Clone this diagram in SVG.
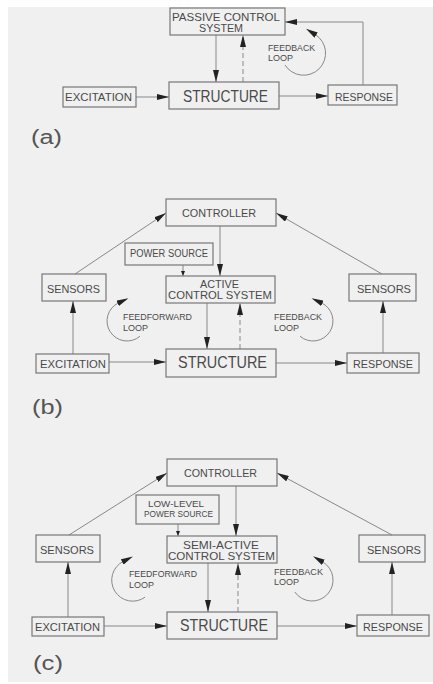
<svg xmlns="http://www.w3.org/2000/svg" width="433" height="684" viewBox="0 0 433 684">
<style>
.bx{fill:none;stroke:#777;stroke-width:1.2}
.ln{fill:none;stroke:#888;stroke-width:1}
.ds{stroke-dasharray:5 3}
.t{font-family:"Liberation Sans",Arial,sans-serif;fill:#4a4a4a;lengthAdjust:spacingAndGlyphs}
.big{font-size:17px}
.md{font-size:11.5px}
.sm{font-size:9px}
.lb{font-size:20px;fill:#555}
</style>
<defs>
<marker id="ah" viewBox="0 0 12 6" refX="12" refY="3" markerWidth="12" markerHeight="6" orient="auto" markerUnits="userSpaceOnUse"><path d="M0,0 L12,3 L0,6 z" fill="#222"/></marker>
<marker id="ahl" viewBox="0 0 12 6" refX="1" refY="3" markerWidth="12" markerHeight="6" orient="auto" markerUnits="userSpaceOnUse"><path d="M0,0 L12,3 L0,6 z" fill="#222"/></marker>
<marker id="ahs" viewBox="0 0 5 4" refX="5" refY="2" markerWidth="5" markerHeight="4" orient="auto" markerUnits="userSpaceOnUse"><path d="M0,0 L5,2 L0,4 z" fill="#222"/></marker>
</defs>
<rect x="0" y="0" width="433" height="684" fill="#fff"/>
<rect x="8" y="7" width="425" height="675" fill="#f0f0f0"/>

<g id="connectors">
<!-- panel a -->
<path class="ln" d="M136,97 H169" marker-end="url(#ah)"/>
<path class="ln" d="M279,96 H328" marker-end="url(#ah)"/>
<path class="ln" d="M216,35 V82" marker-end="url(#ah)"/>
<path class="ln ds" d="M243,82 V35" marker-end="url(#ah)"/>
<path class="ln" d="M363,85 V22 H285" marker-end="url(#ah)"/>
<path class="ln" d="M285,65 A22,22 0 1 0 315.3,34.6" marker-end="url(#ahl)"/>
<!-- panel b -->
<path class="ln" d="M109,362 H166" marker-end="url(#ah)"/>
<path class="ln" d="M276,363 H347" marker-end="url(#ah)"/>
<path class="ln" d="M220,226 V276" marker-end="url(#ah)"/>
<path class="ln" d="M183,265 V276" marker-end="url(#ahs)"/>
<path class="ln" d="M207,303 V349" marker-end="url(#ah)"/>
<path class="ln ds" d="M240,349 V303" marker-end="url(#ah)"/>
<path class="ln" d="M73,354 V301" marker-end="url(#ah)"/>
<path class="ln" d="M383,353 V301" marker-end="url(#ah)"/>
<path class="ln" d="M75,274 L166,213" marker-end="url(#ah)"/>
<path class="ln" d="M382,274 L276,213" marker-end="url(#ah)"/>
<path class="ln" d="M139.9,336.3 A20,20 0 1 1 118.5,302.9" marker-end="url(#ahl)"/>
<path class="ln" d="M300.1,336.3 A20,20 0 1 0 321.5,302.9" marker-end="url(#ahl)"/>
<!-- panel c -->
<path class="ln" d="M104,626 H167" marker-end="url(#ah)"/>
<path class="ln" d="M277,626 H357" marker-end="url(#ah)"/>
<path class="ln" d="M236,486 V536" marker-end="url(#ah)"/>
<path class="ln" d="M178,524 V536" marker-end="url(#ahs)"/>
<path class="ln" d="M208,563 V612" marker-end="url(#ah)"/>
<path class="ln ds" d="M238,612 V563" marker-end="url(#ah)"/>
<path class="ln" d="M68,617 V562" marker-end="url(#ah)"/>
<path class="ln" d="M392,615 V562" marker-end="url(#ah)"/>
<path class="ln" d="M69,535 L167,473" marker-end="url(#ah)"/>
<path class="ln" d="M392,535 L277,473" marker-end="url(#ah)"/>
<path class="ln" d="M145,597.2 A21,21 0 1 1 123.1,561.5" marker-end="url(#ahl)"/>
<path class="ln" d="M294.8,592 A21,21 0 1 0 322.5,561.8" marker-end="url(#ahl)"/>
</g>

<!-- panel a -->
<g id="a-passive"><rect class="bx" x="170" y="8" width="115" height="27"/>
<text class="t" x="172" y="21" font-size="11" textLength="108" lengthAdjust="spacingAndGlyphs">PASSIVE  CONTROL</text>
<text class="t" x="199" y="32" font-size="11" textLength="44" lengthAdjust="spacingAndGlyphs">SYSTEM</text></g>
<g id="a-structure"><rect class="bx" x="169" y="82" width="110" height="27"/>
<text class="t big" x="183" y="102" textLength="85" lengthAdjust="spacingAndGlyphs">STRUCTURE</text></g>
<g id="a-excitation"><rect class="bx" x="63" y="87" width="73" height="20"/>
<text class="t md" x="65" y="101" textLength="67" lengthAdjust="spacingAndGlyphs">EXCITATION</text></g>
<g id="a-response"><rect class="bx" x="328" y="85" width="69" height="20"/>
<text class="t md" x="335" y="101" textLength="58" lengthAdjust="spacingAndGlyphs">RESPONSE</text></g>
<g id="a-feedback-label">
<text class="t sm" x="268" y="51" textLength="47" lengthAdjust="spacingAndGlyphs">FEEDBACK</text>
<text class="t sm" x="268" y="61" textLength="25" lengthAdjust="spacingAndGlyphs">LOOP</text></g>
<text class="t lb" x="31" y="144" textLength="31" lengthAdjust="spacingAndGlyphs">(a)</text>

<!-- panel b -->
<g id="b-controller"><rect class="bx" x="166" y="199" width="110" height="27"/>
<text class="t md" x="182" y="217" textLength="74" lengthAdjust="spacingAndGlyphs">CONTROLLER</text></g>
<g id="b-power"><rect class="bx" x="125" y="243" width="88" height="22"/>
<text class="t" x="130" y="257" font-size="10" textLength="78" lengthAdjust="spacingAndGlyphs">POWER  SOURCE</text></g>
<g id="b-active"><rect class="bx" x="166" y="276" width="109" height="27"/>
<text class="t" x="200" y="288" font-size="11" textLength="39" lengthAdjust="spacingAndGlyphs">ACTIVE</text>
<text class="t" x="168" y="299" font-size="11" textLength="104" lengthAdjust="spacingAndGlyphs">CONTROL  SYSTEM</text></g>
<g id="b-sensors-left"><rect class="bx" x="42" y="274" width="64" height="27"/>
<text class="t md" x="47" y="293" textLength="53" lengthAdjust="spacingAndGlyphs">SENSORS</text></g>
<g id="b-sensors-right"><rect class="bx" x="349" y="274" width="67" height="27"/>
<text class="t md" x="357" y="293" textLength="54" lengthAdjust="spacingAndGlyphs">SENSORS</text></g>
<g id="b-excitation"><rect class="bx" x="36" y="354" width="73" height="19"/>
<text class="t md" x="40" y="368" textLength="66" lengthAdjust="spacingAndGlyphs">EXCITATION</text></g>
<g id="b-structure"><rect class="bx" x="166" y="349" width="110" height="28"/>
<text class="t big" x="178" y="368" textLength="89" lengthAdjust="spacingAndGlyphs">STRUCTURE</text></g>
<g id="b-response"><rect class="bx" x="347" y="353" width="72" height="20"/>
<text class="t md" x="353" y="368" textLength="60" lengthAdjust="spacingAndGlyphs">RESPONSE</text></g>
<g id="b-feedforward-label">
<text class="t sm" x="123" y="320" textLength="69" lengthAdjust="spacingAndGlyphs">FEEDFORWARD</text>
<text class="t sm" x="123" y="331" textLength="25" lengthAdjust="spacingAndGlyphs">LOOP</text></g>
<g id="b-feedback-label">
<text class="t sm" x="274" y="320" textLength="48" lengthAdjust="spacingAndGlyphs">FEEDBACK</text>
<text class="t sm" x="274" y="331" textLength="25" lengthAdjust="spacingAndGlyphs">LOOP</text></g>
<text class="t lb" x="32" y="414" textLength="31" lengthAdjust="spacingAndGlyphs">(b)</text>

<!-- panel c -->
<g id="c-controller"><rect class="bx" x="167" y="459" width="110" height="27"/>
<text class="t md" x="184" y="477" textLength="73" lengthAdjust="spacingAndGlyphs">CONTROLLER</text></g>
<g id="c-lowlevel-power"><rect class="bx" x="136" y="495" width="83" height="29"/>
<text class="t" x="148" y="507" font-size="8.5" textLength="56" lengthAdjust="spacingAndGlyphs">LOW-LEVEL</text>
<text class="t" x="144" y="517" font-size="8.5" textLength="69" lengthAdjust="spacingAndGlyphs">POWER  SOURCE</text></g>
<g id="c-semiactive"><rect class="bx" x="167" y="536" width="110" height="27"/>
<text class="t" x="183" y="549" font-size="11" textLength="76" lengthAdjust="spacingAndGlyphs">SEMI-ACTIVE</text>
<text class="t" x="168" y="560" font-size="11" textLength="107" lengthAdjust="spacingAndGlyphs">CONTROL  SYSTEM</text></g>
<g id="c-sensors-left"><rect class="bx" x="36" y="535" width="64" height="27"/>
<text class="t md" x="40" y="554" textLength="54" lengthAdjust="spacingAndGlyphs">SENSORS</text></g>
<g id="c-sensors-right"><rect class="bx" x="359" y="535" width="66" height="27"/>
<text class="t md" x="367" y="554" textLength="54" lengthAdjust="spacingAndGlyphs">SENSORS</text></g>
<g id="c-excitation"><rect class="bx" x="32" y="617" width="72" height="19"/>
<text class="t md" x="35" y="631" textLength="65" lengthAdjust="spacingAndGlyphs">EXCITATION</text></g>
<g id="c-structure"><rect class="bx" x="167" y="612" width="110" height="27"/>
<text class="t big" x="180" y="631" textLength="88" lengthAdjust="spacingAndGlyphs">STRUCTURE</text></g>
<g id="c-response"><rect class="bx" x="357" y="615" width="72" height="21"/>
<text class="t md" x="363" y="631" textLength="60" lengthAdjust="spacingAndGlyphs">RESPONSE</text></g>
<g id="c-feedforward-label">
<text class="t sm" x="129" y="577" textLength="68" lengthAdjust="spacingAndGlyphs">FEEDFORWARD</text>
<text class="t sm" x="129" y="588" textLength="25" lengthAdjust="spacingAndGlyphs">LOOP</text></g>
<g id="c-feedback-label">
<text class="t sm" x="274" y="575" textLength="49" lengthAdjust="spacingAndGlyphs">FEEDBACK</text>
<text class="t sm" x="274" y="585" textLength="25" lengthAdjust="spacingAndGlyphs">LOOP</text></g>
<text class="t lb" x="33" y="670" textLength="30" lengthAdjust="spacingAndGlyphs">(c)</text>
</svg>
